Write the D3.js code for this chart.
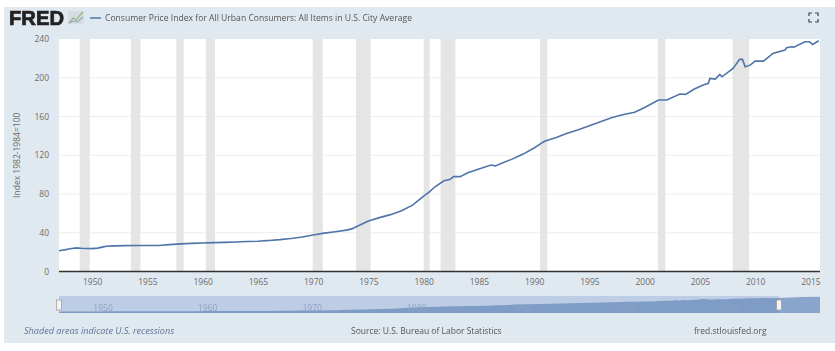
<!DOCTYPE html>
<html>
<head>
<meta charset="utf-8">
<script src="https://cdnjs.cloudflare.com/ajax/libs/d3/7.8.5/d3.min.js"></script>
<style>
  html, body { margin: 0; padding: 0; background: #fff; }
  svg { display: block; font-family: "Open Sans", sans-serif; filter: blur(0.3px); }
  .axis path { display: none; }
  .axis line { display: none; }
  .axis text { font-family: "Open Sans", sans-serif; font-size: 8.5px; fill: #6b6b6b; }
</style>
</head>
<body>
<svg id="chart"></svg>
<script>
// CPI, decimal year / index value
const years = [1947, 1947.5, 1948, 1948.6, 1949, 1949.5, 1950, 1950.5, 1951, 1951.3, 1952, 1953, 1954, 1955, 1956, 1957, 1958, 1959, 1960, 1961, 1962, 1963, 1964, 1965, 1966, 1967, 1968, 1969, 1970, 1971, 1972, 1973, 1973.5, 1974, 1975, 1976, 1977, 1978, 1979, 1980, 1980.5, 1981, 1981.8, 1982.4, 1982.7, 1983.3, 1984, 1985, 1986.1, 1986.5, 1987, 1988, 1989, 1990, 1990.8, 1991, 1992, 1993, 1994, 1995, 1996, 1997, 1998, 1999.1, 2000, 2001.25, 2002, 2003.2, 2003.7, 2004.5, 2005.3, 2005.76, 2005.9, 2006.4, 2006.8, 2007, 2008, 2008.6, 2008.85, 2009.1, 2009.55, 2010, 2010.75, 2011.6, 2012.7, 2012.85, 2013.3, 2013.5, 2014.5, 2014.9, 2015.2, 2015.75, 2017, 2018, 2019.8];
const cpi = [21.5, 22.3, 23.5, 24.4, 24, 23.8, 23.6, 24.1, 25.4, 26, 26.5, 26.7, 26.9, 26.8, 26.9, 27.7, 28.5, 29, 29.4, 29.8, 30.1, 30.5, 30.9, 31.3, 32, 32.9, 34.1, 35.6, 37.7, 39.6, 41.1, 42.7, 44, 46.8, 52.1, 55.6, 58.7, 62.8, 68.5, 77.8, 82, 87.2, 93.4, 95.1, 97.9, 97.9, 101.9, 105.7, 109.9, 109, 111.4, 116, 121.2, 127.5, 133.5, 134.7, 138.3, 142.6, 146.3, 150.5, 154.7, 158.7, 161.8, 164.3, 169.3, 177, 177, 183.2, 182.8, 188.4, 192.5, 194.2, 199.3, 198.6, 203.5, 201, 209.7, 219, 219, 211.4, 213, 217.2, 217.2, 225, 228.6, 231, 232, 231.6, 237.2, 237.2, 234.4, 238.2, 244, 251, 257];
const recessionStart = [1948.87, 1953.5, 1957.62, 1960.29, 1969.96, 1973.87, 1980, 1981.54, 1990.54, 2001.2, 2007.96];
const recessionEnd = [1949.78, 1954.37, 1958.29, 1961.12, 1970.87, 1975.2, 1980.54, 1982.87, 1991.2, 2001.87, 2009.46];
const xTickYears = [1950, 1955, 1960, 1965, 1970, 1975, 1980, 1985, 1990, 1995, 2000, 2005, 2010, 2015];
const yTickValues = [0, 40, 80, 120, 160, 200, 240];
const navTickYears = [1950, 1960, 1970, 1980, 1990, 2000, 2010];

const seriesTitle = 'Consumer Price Index for All Urban Consumers: All Items in U.S. City Average';
const yTitle = 'Index 1982-1984=100';

const points = years.map((d, i) => ({year: d, value: cpi[i]}));
const recessions = recessionStart.map((d, i) => [d, recessionEnd[i]]);

const W = 835, H = 351;
const plot = {left: 59, right: 820, top: 39, bottom: 271.5};
const nav = {top: 296, bottom: 313};
const viewStart = 1947, viewEnd = 2015.87, dataEnd = 2019.8;

const svg = d3.select('#chart').attr('width', W).attr('height', H);

// Panel background
svg.append('rect').attr('x', 4).attr('y', 7).attr('width', W - 4).attr('height', 336).attr('fill', '#e1e9f0');
svg.append('rect').attr('x', plot.left).attr('y', plot.top)
    .attr('width', plot.right - plot.left).attr('height', plot.bottom - plot.top).attr('fill', '#fff');

const xScale = d3.scaleLinear().domain([viewStart, viewEnd]).range([plot.left, plot.right]);
const yScale = d3.scaleLinear().domain([0, 240]).range([plot.bottom, plot.top]);
const navX = d3.scaleLinear().domain([viewStart, dataEnd]).range([plot.left, plot.right]);
const navY = d3.scaleLinear().domain([0, 268]).range([nav.bottom, nav.top]);

// Recession bands
svg.append('g').selectAll('rect')
    .data(recessions)
    .join('rect')
    .attr('x', d => xScale(d[0]))
    .attr('y', plot.top)
    .attr('width', d => xScale(d[1]) - xScale(d[0]))
    .attr('height', plot.bottom - plot.top)
    .attr('fill', '#e5e5e5');

// Gridlines
svg.append('g').selectAll('line')
    .data(yTickValues.filter(d => d > 0 && d < 240))
    .join('line')
    .attr('x1', plot.left)
    .attr('x2', plot.right)
    .attr('y1', d => yScale(d))
    .attr('y2', d => yScale(d))
    .attr('stroke', '#e6e6e6')
    .attr('stroke-opacity', 0.7);

// Axes
svg.append('g')
    .attr('class', 'axis')
    .attr('transform', `translate(0,${plot.bottom})`)
    .call(d3.axisBottom(xScale).tickValues(xTickYears).tickFormat(d3.format('d')).tickSize(0).tickPadding(7));

svg.append('g')
    .attr('class', 'axis')
    .attr('transform', `translate(${plot.left},0)`)
    .call(d3.axisLeft(yScale).tickValues(yTickValues).tickSize(0).tickPadding(10));

svg.append('line')
    .attr('x1', plot.left).attr('x2', plot.right)
    .attr('y1', plot.bottom).attr('y2', plot.bottom)
    .attr('stroke', '#333').attr('stroke-width', 1.5);

svg.append('text')
    .attr('transform', `translate(20,${(plot.top + plot.bottom) / 2}) rotate(-90)`)
    .attr('text-anchor', 'middle')
    .attr('font-size', 8.5)
    .attr('fill', '#6b6b6b')
    .text(yTitle);

// Main series
const line = d3.line().x(d => xScale(d.year)).y(d => yScale(d.value));
svg.append('path')
    .datum(points.filter(d => d.year <= viewEnd))
    .attr('d', line)
    .attr('fill', 'none')
    .attr('stroke', '#4e74a8')
    .attr('stroke-width', 1.6);

// Navigator
const navArea = d3.area().x(d => navX(d.year)).y0(nav.bottom).y1(d => navY(d.value));
const handleX = navX(viewEnd);

svg.append('rect').attr('x', plot.left).attr('y', nav.top)
    .attr('width', handleX - plot.left).attr('height', nav.bottom - nav.top).attr('fill', '#bccde5');
svg.append('path').datum(points).attr('d', navArea).attr('fill', '#7f9cc6');
svg.append('rect').attr('x', handleX).attr('y', nav.top)
    .attr('width', plot.right - handleX).attr('height', nav.bottom - nav.top).attr('fill', '#e1e9f0').attr('fill-opacity', 0.12);

svg.append('g').selectAll('text')
    .data(navTickYears)
    .join('text')
    .attr('x', d => navX(d) + 3)
    .attr('y', 311)
    .attr('font-size', 8.5)
    .attr('fill', '#8fa2c2')
    .text(d => d);

svg.append('g').selectAll('rect')
    .data([plot.left, handleX])
    .join('rect')
    .attr('x', d => d - 2.5)
    .attr('y', 300)
    .attr('width', 5)
    .attr('height', 10)
    .attr('fill', '#f4f4f4')
    .attr('stroke', '#999')
    .attr('stroke-width', 0.7);

// Header
svg.append('text').attr('x', 9).attr('y', 24.5)
    .attr('font-family', 'Liberation Sans, sans-serif')
    .attr('font-size', 19.5).attr('font-weight', 700)
    .attr('stroke', '#222').attr('stroke-width', 0.7)
    .attr('textLength', 55).attr('lengthAdjust', 'spacingAndGlyphs')
    .attr('fill', '#222').text('FRED');

const logo = svg.append('g').attr('transform', 'translate(68,11)');
logo.append('rect').attr('width', 16).attr('height', 13).attr('fill', '#d5dde0');
logo.append('path').attr('d', 'M1 12L5 7L8 9L12 4L15 1').attr('fill', 'none').attr('stroke', '#8fb07a').attr('stroke-width', 1.1);
logo.append('path').attr('d', 'M1 12L5 10L9 11L15 6').attr('fill', 'none').attr('stroke', '#8aa4c4').attr('stroke-width', 1.1);

svg.append('line').attr('x1', 90).attr('x2', 101).attr('y1', 18).attr('y2', 18)
    .attr('stroke', '#4e74a8').attr('stroke-width', 1.5);
svg.append('text').attr('x', 105).attr('y', 21)
    .attr('font-size', 8.6).attr('fill', '#555').text(seriesTitle);

// Fullscreen icon corners
svg.append('path')
    .attr('d', 'M809 16V13H812 M815 13H818V16 M809 19V22H812 M815 22H818V19')
    .attr('fill', 'none').attr('stroke', '#444').attr('stroke-width', 1.2);

// Footer
svg.append('text').attr('x', 24).attr('y', 334)
    .attr('font-size', 9.1).attr('font-style', 'italic').attr('fill', '#5d7196')
    .text('Shaded areas indicate U.S. recessions');
svg.append('text').attr('x', 351).attr('y', 334)
    .attr('font-size', 8.5).attr('fill', '#555')
    .text('Source: U.S. Bureau of Labor Statistics');
svg.append('text').attr('x', 694).attr('y', 334)
    .attr('font-size', 8.5).attr('fill', '#555')
    .text('fred.stlouisfed.org');
</script>
</body>
</html>
